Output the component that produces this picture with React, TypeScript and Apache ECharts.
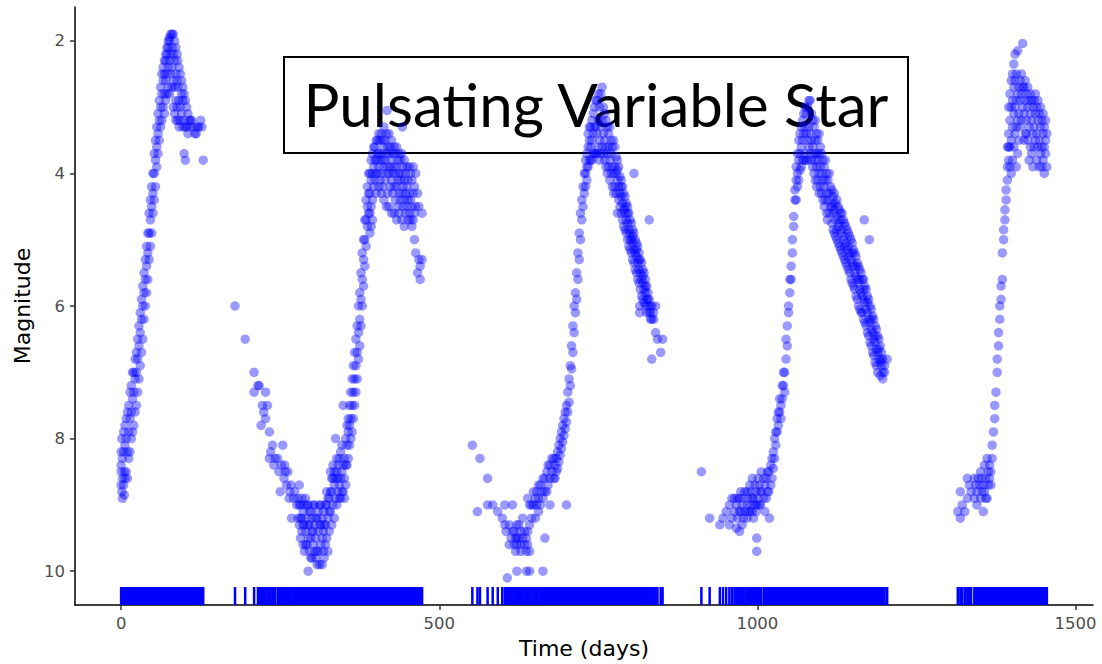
import React, { useEffect, useRef } from "react";
import * as echarts from "echarts";

const cycle1Rows: number[][] = [
  [0, 8.7, 8.5, 8.2, 8.4], [1, 8.8, 8.0], [2, 8.9, 8.6, 8.3], [4, 8.7, 8.2, 7.9], [5, 8.85, 8.5],
  [6, 8.6, 8.1, 7.8], [8, 8.5, 8.0, 7.7], [10, 8.6, 8.2, 7.6], [12, 8.3, 7.9, 7.5],
  [14, 8.2, 7.7, 7.3], [16, 8.0, 7.6, 7.2], [18, 7.9, 7.4, 7.0], [20, 7.8, 7.3, 7.0],
  [22, 7.6, 7.1, 6.8], [24, 7.5, 7.0, 6.7], [26, 7.3, 6.8, 6.5], [28, 7.1, 6.6, 6.3],
  [30, 6.9, 6.4, 6.1], [32, 6.7, 6.2, 5.9], [34, 6.5, 6.0, 5.7], [36, 6.2, 5.8, 5.5],
  [38, 6.0, 5.6, 5.3], [40, 5.8, 5.4, 5.1], [42, 5.6, 5.2, 4.9], [44, 5.3, 4.9, 4.6],
  [46, 5.1, 4.7, 4.4], [48, 4.9, 4.5, 4.2], [50, 4.6, 4.3, 4.0], [52, 4.4, 4.0, 3.7],
  [54, 4.2, 3.8, 3.5], [56, 3.9, 3.6, 3.3], [58, 3.7, 3.4, 3.1], [60, 3.5, 3.2, 2.9],
  [62, 3.3, 3.0, 2.7], [64, 3.2, 2.8, 2.5], [66, 3.0, 2.6, 2.4], [68, 2.8, 2.5, 2.3, 3.1],
  [70, 2.6, 2.3, 2.2, 2.9], [72, 2.5, 2.2, 2.1, 2.8], [74, 2.4, 2.1, 2.0, 2.7],
  [76, 2.3, 2.0, 1.95, 2.8], [78, 2.2, 1.9, 2.5], [80, 1.9, 2.1, 2.4, 2.7],
  [82, 1.9, 2.2, 2.6, 3.0], [84, 2.0, 2.3, 2.7, 3.1], [86, 2.1, 2.5, 2.9, 3.2],
  [88, 2.2, 2.6, 3.0], [89, 2.3, 2.7, 3.2], [91, 2.4, 2.9, 3.3], [93, 2.5, 3.0, 3.2],
  [95, 2.6, 3.1, 2.8], [97, 2.7, 3.3, 2.9], [99, 2.8, 3.7, 3.2], [101, 2.9, 3.8, 3.3],
  [103, 3.0, 3.3], [105, 3.1, 3.4], [107, 3.2], [109, 3.3, 3.2], [111, 3.2], [114, 3.3],
  [116, 3.4], [118, 3.4], [120, 3.3], [122, 3.3], [125, 3.2], [127, 3.3], [129, 3.8],
];

const cycle2Rows: number[][] = [
  [179, 6.0], [195, 6.5], [209, 7.0, 7.3], [215, 7.2], [217, 7.2], [220, 7.8], [222, 7.5],
  [224, 7.6], [227, 7.3, 7.7], [230, 7.5], [233, 7.9, 8.3], [235, 8.2], [238, 8.1],
  [240, 8.4], [242, 8.3], [246, 8.3], [248, 8.5], [250, 8.8], [252, 8.4], [254, 8.1],
  [256, 8.6], [257, 8.4], [258, 8.5], [260, 8.7], [262, 8.5], [264, 8.9], [265, 8.8],
  [267, 8.7], [268, 9.2], [271, 8.9], [273, 8.8], [276, 9.0], [278, 9.2, 8.9],
  [280, 8.7, 9.0, 9.3], [282, 9.0, 9.5, 9.2], [284, 9.2, 9.4, 8.9], [286, 9.1, 9.6, 9.3],
  [288, 9.0, 9.3, 9.7], [290, 8.9, 9.4, 9.6], [292, 9.2, 9.6, 9.0], [294, 9.0, 9.5, 10.0, 9.3],
  [296, 9.3, 9.7, 9.1], [298, 9.1, 9.5, 9.8], [300, 9.2, 9.8, 9.4], [302, 9.4, 9.6, 9.0],
  [304, 9.0, 9.3, 9.7], [306, 9.5, 9.8, 9.2], [308, 9.2, 9.7, 9.9], [310, 9.1, 9.4, 9.7],
  [312, 9.3, 9.9, 9.0], [314, 9.0, 9.6, 9.3], [316, 9.2, 9.5, 9.9], [318, 9.1, 9.4, 9.7],
  [319, 9.3, 9.8], [321, 9.0, 9.6, 9.3], [323, 9.0, 9.5, 8.8], [325, 9.2, 9.7, 8.9],
  [327, 8.9, 9.4, 9.1], [329, 8.5, 9.1, 8.8], [331, 8.8, 9.3, 8.6], [333, 8.6, 9.0, 8.4],
  [335, 8.7, 9.2, 8.5], [337, 8.0, 8.9, 8.6], [339, 8.5, 9.0, 8.3], [341, 8.4, 8.8, 8.6],
  [343, 8.3, 8.7, 8.9], [345, 8.2, 8.6, 8.9], [347, 8.1, 8.5, 8.8], [349, 7.5, 8.4, 8.8],
  [351, 8.3, 8.6, 8.9], [353, 8.0, 8.4, 8.7], [355, 7.8, 8.1, 8.4], [357, 7.7, 7.9, 8.3],
  [359, 7.5, 7.8, 8.1], [361, 7.3, 7.7, 8.0], [363, 7.1, 7.5, 7.9], [365, 6.9, 7.3, 7.7],
  [367, 6.7, 7.1, 7.5], [369, 6.5, 6.9, 7.3], [371, 6.3, 6.7, 7.1], [373, 6.0, 6.4, 6.8],
  [375, 5.8, 6.2, 6.6], [377, 5.5, 5.9, 6.3], [379, 5.2, 5.6, 6.0], [381, 5.0, 5.3, 5.7],
  [383, 4.7, 5.0, 5.4], [385, 4.4, 4.7, 5.1], [387, 4.2, 4.5, 4.8], [389, 4.0, 4.3, 4.6],
  [391, 4.0, 4.3, 4.6, 4.9], [393, 3.8, 4.1, 4.5, 4.8], [395, 3.7, 4.0, 4.4, 4.7],
  [397, 3.6, 3.9, 4.2], [399, 3.6, 3.8, 4.1], [401, 3.5, 3.8, 4.0, 4.3], [403, 3.5, 3.7, 4.0],
  [405, 3.4, 3.7, 3.9, 4.2], [407, 3.5, 3.8, 4.1], [409, 3.4, 3.7, 4.0, 4.3],
  [411, 3.5, 3.8, 4.2], [413, 3.3, 3.6, 3.9, 4.4], [415, 3.5, 3.8, 4.1],
  [417, 3.4, 3.7, 4.0, 4.5], [418, 3.05], [419, 3.6, 3.9, 4.3], [421, 3.4, 3.7, 4.0, 4.5],
  [423, 3.6, 3.9, 4.2], [425, 3.5, 3.8, 4.1, 4.6], [427, 3.7, 4.0, 4.3],
  [429, 3.6, 3.9, 4.2, 4.6], [431, 3.7, 4.0, 4.4], [433, 3.6, 3.9, 4.2, 4.7],
  [435, 3.8, 4.1, 4.5], [437, 3.7, 4.0, 4.3, 4.6], [439, 3.8, 4.1, 4.4],
  [441, 3.7, 4.0, 4.3, 4.7], [442, 3.3], [443, 3.9, 4.2, 4.5], [445, 3.8, 4.1, 4.4, 4.8],
  [447, 4.0, 4.3, 4.6], [449, 3.9, 4.2, 4.5], [451, 4.1, 4.4, 4.7], [453, 3.9, 4.3, 4.6],
  [455, 4.0, 4.4, 4.7], [457, 4.1, 4.5, 4.8], [459, 3.9, 4.3, 4.7], [461, 4.2, 4.6, 5.0],
  [463, 4.0, 4.5, 5.2], [466, 4.3, 5.5], [468, 4.5, 5.3], [470, 5.4, 5.6], [473, 4.6, 5.3],
];

const cycle3Rows: number[][] = [
  [552, 8.1], [560, 9.1], [564, 8.3], [576, 8.6, 9.0], [584, 9.0], [592, 9.1], [599, 9.2],
  [603, 9.0, 9.3], [605, 9.4], [607, 10.1], [610, 9.6, 9.3], [613, 9.5], [615, 9.0, 9.4],
  [618, 9.4, 9.6], [620, 9.5, 9.7], [622, 9.3, 9.6, 10.0, 9.5], [625, 9.5, 9.3],
  [628, 9.4, 9.7, 9.6], [631, 9.2, 9.5], [634, 9.6, 9.4], [637, 9.7, 10.0, 9.5],
  [639, 8.9, 9.4, 9.6], [642, 9.0, 10.0, 9.7, 9.3], [645, 9.2, 9.0], [648, 9.0, 8.8],
  [651, 8.9, 9.2], [653, 9.0, 8.8], [656, 8.9, 9.1, 8.7], [659, 8.7, 9.0], [661, 8.8],
  [663, 8.6, 10.0, 8.9], [666, 8.8, 9.5, 8.6], [669, 8.5, 8.8], [671, 8.7, 8.4],
  [674, 8.4, 9.0, 8.6], [677, 8.5, 8.3], [680, 8.3, 8.6], [682, 8.6, 8.4], [684, 8.3, 8.5],
  [686, 8.2, 8.45], [688, 8.1, 8.35], [690, 8.0, 8.25], [692, 7.9, 8.15], [694, 7.8, 8.05],
  [696, 7.7, 7.95], [698, 7.6, 7.85], [700, 7.5, 7.75, 9.0], [702, 7.3, 7.6], [704, 7.1, 7.45],
  [706, 6.9, 7.2], [708, 6.6, 6.95], [710, 6.3, 6.7], [712, 6.0, 6.4], [714, 5.8, 6.1],
  [716, 5.5, 5.9], [718, 5.2, 5.6], [720, 4.9, 5.3], [722, 4.6, 5.0], [724, 4.4, 4.7],
  [726, 4.2, 4.5], [728, 4.0, 4.3], [730, 4.2, 4.0, 3.8], [732, 3.9, 3.7, 4.1],
  [734, 3.6, 3.9, 3.4], [736, 3.5, 3.8, 3.3], [738, 3.3, 3.6, 3.8], [740, 3.2, 3.5, 3.8],
  [742, 3.1, 3.4, 3.7], [744, 3.0, 3.3, 3.7], [746, 2.9, 3.3, 3.7], [748, 2.9, 3.4, 3.7],
  [750, 2.8, 3.2, 3.6], [752, 3.0, 3.5, 3.8], [754, 2.8, 3.3, 3.7], [756, 2.7, 3.2, 3.6],
  [758, 3.0, 3.4, 3.7], [760, 3.1, 3.5, 3.8], [762, 3.2, 3.6, 3.9], [764, 3.3, 3.7, 4.0],
  [766, 3.4, 3.6, 3.9], [768, 3.3, 3.8, 4.1], [770, 3.5, 3.7, 4.0], [772, 3.6, 3.9, 4.2],
  [774, 3.5, 4.0, 4.3], [776, 3.6, 3.9, 4.2], [778, 3.75, 4.0, 4.3], [780, 3.8, 4.1, 4.6, 3.95],
  [782, 3.9, 4.2, 4.4], [784, 4.05, 4.3, 4.5], [786, 4.1, 4.35, 4.6, 4.2], [788, 4.2, 4.45, 4.7],
  [790, 4.3, 4.55, 4.8], [792, 4.35, 4.6, 4.85, 4.5], [794, 4.45, 4.7, 4.9],
  [796, 4.5, 4.75, 5.0, 4.6], [798, 4.6, 4.85, 5.1], [800, 4.7, 4.9, 5.15, 5.0],
  [802, 4.75, 5.0, 5.2], [804, 4.85, 5.05, 5.3, 4.95], [806, 4.0, 4.9, 5.15, 5.35],
  [808, 5.0, 5.2, 5.45], [810, 5.05, 5.25, 5.5, 5.15], [812, 5.1, 5.35, 5.6],
  [814, 5.2, 5.45, 5.65, 5.3], [815, 6.0, 6.1], [816, 5.3, 5.5, 5.75], [818, 5.35, 5.6, 5.85],
  [820, 5.45, 5.65, 5.9, 5.55], [822, 5.5, 5.75, 5.95], [824, 5.6, 5.8, 6.0, 5.7],
  [826, 5.7, 5.9, 6.1], [828, 5.8, 6.0, 5.9], [830, 4.7, 5.9, 6.1], [832, 6.0, 6.2, 6.1],
  [834, 6.0, 6.8, 6.2], [837, 6.2, 6.1], [840, 6.4, 6.0], [843, 6.5], [848, 6.7], [851, 6.5],
];

const cycle4Rows: number[][] = [
  [912, 8.5], [925, 9.2], [941, 9.3], [946, 9.2], [951, 9.1], [956, 9.0, 9.3], [960, 9.2, 8.9],
  [964, 9.1, 8.9], [967, 9.35, 9.0], [969, 9.2, 8.9], [972, 9.4, 8.9, 9.1], [974, 9.1, 8.8],
  [976, 9.3, 9.0], [978, 9.2, 8.9], [980, 8.8, 9.1], [984, 9.0, 9.2, 8.8], [986, 8.9, 9.1],
  [988, 9.1, 8.7], [990, 9.0, 8.8], [992, 8.6, 8.9, 9.1], [994, 9.2, 8.9], [996, 9.0, 8.7],
  [998, 8.8, 9.1], [999, 9.5, 9.7, 9.0], [1001, 8.9, 8.6], [1003, 8.7, 9.0], [1005, 9.0, 8.8],
  [1006, 8.8, 8.5], [1010, 8.9, 8.6], [1012, 8.7, 9.1], [1014, 8.6, 8.9], [1016, 8.8, 8.5],
  [1018, 8.5, 8.8], [1019, 9.2], [1021, 8.7, 8.4], [1023, 8.3, 8.6], [1025, 8.2, 8.45],
  [1027, 8.0, 8.3], [1029, 8.1, 7.9], [1031, 7.9, 7.7], [1033, 7.8, 7.6], [1035, 7.6, 7.4],
  [1037, 7.5, 7.7], [1039, 7.4, 7.2], [1041, 7.2, 7.0], [1043, 7.0, 7.3], [1045, 6.8, 6.5],
  [1047, 6.3, 6.6], [1049, 6.1, 6.0], [1051, 5.8, 5.6], [1053, 5.6, 5.4], [1055, 5.2, 5.0],
  [1057, 4.8, 4.65], [1059, 4.4, 4.25], [1061, 4.1, 3.9, 4.4], [1063, 3.7, 4.0, 4.2],
  [1065, 3.5, 3.8, 4.1], [1067, 3.4, 3.7, 3.95], [1069, 3.3, 3.6, 3.9], [1071, 3.2, 3.5, 3.8],
  [1073, 3.1, 3.4, 3.8], [1075, 3.0, 3.3, 3.7], [1077, 3.1, 3.4, 3.8], [1079, 3.0, 3.5, 3.8],
  [1081, 2.9, 3.3, 3.6], [1083, 2.9, 3.4, 3.7], [1085, 3.1, 3.5, 3.8], [1087, 3.2, 3.6, 3.9],
  [1089, 3.3, 3.7, 4.0], [1091, 3.2, 3.5, 3.8, 4.1], [1093, 3.4, 3.7, 3.9, 4.2],
  [1095, 3.5, 3.8, 4.1], [1097, 3.4, 3.7, 4.0, 4.3], [1099, 3.6, 3.9, 4.2], [1101, 3.7, 4.0, 4.3],
  [1103, 3.8, 4.1, 4.4], [1105, 3.9, 4.2, 4.5], [1107, 3.8, 4.1, 4.4], [1109, 4.0, 4.3, 4.6],
  [1110, 4.7], [1111, 4.1, 4.4], [1113, 4.0, 4.3, 4.6], [1115, 4.2, 4.5],
  [1117, 4.25, 4.5, 4.75], [1119, 4.35, 4.6, 4.85, 4.45], [1121, 4.3, 4.55, 4.9],
  [1123, 4.45, 4.7, 4.95], [1125, 4.4, 4.65, 5.0, 4.85], [1127, 4.5, 4.8, 5.05],
  [1129, 4.55, 4.75, 5.1], [1131, 4.6, 4.9, 5.15, 4.7], [1133, 4.6, 4.85, 5.2],
  [1135, 4.7, 5.0, 5.25], [1137, 4.75, 4.95, 5.3, 5.1], [1139, 4.8, 5.05, 5.35],
  [1141, 4.85, 5.15, 5.4], [1143, 4.9, 5.1, 5.45, 5.25], [1145, 4.95, 5.2, 5.5],
  [1147, 5.0, 5.3, 5.6], [1149, 5.05, 5.35, 5.65, 5.2], [1151, 5.15, 5.4, 5.7],
  [1153, 5.2, 5.5, 5.75], [1155, 5.25, 5.55, 5.85, 5.4], [1157, 5.35, 5.6, 5.9],
  [1159, 5.4, 5.65, 6.0], [1161, 5.45, 5.75, 6.05, 5.6], [1163, 5.5, 5.8, 6.1],
  [1165, 5.6, 5.85, 6.1], [1167, 5.6, 5.9, 6.2, 5.75], [1168, 4.7], [1169, 5.7, 5.95, 6.25],
  [1171, 5.75, 6.05, 6.3], [1173, 5.85, 6.1, 6.4, 5.95], [1175, 5.9, 6.2, 6.45], [1176, 5.0],
  [1177, 6.0, 6.25, 6.55], [1179, 6.05, 6.35, 6.6, 6.2], [1181, 6.15, 6.4, 6.7],
  [1183, 6.2, 6.5, 6.75], [1185, 6.3, 6.55, 6.85, 6.45], [1187, 6.35, 6.65, 6.9],
  [1189, 6.45, 6.7, 7.0], [1191, 6.5, 6.8, 6.65], [1193, 6.6, 6.85, 7.05], [1195, 6.7, 6.9, 6.8],
  [1197, 6.8, 7.0, 7.1], [1200, 7.0, 6.9], [1204, 6.8],
];

const cycle5Rows: number[][] = [
  [1315, 9.1], [1319, 8.8, 9.2], [1322, 9.0], [1326, 9.1], [1330, 8.9, 8.6], [1333, 8.7],
  [1336, 8.8], [1341, 8.6, 8.9], [1343, 8.7], [1345, 8.8, 9.0], [1347, 8.6], [1349, 8.7],
  [1351, 8.9, 8.5], [1353, 8.6, 8.8], [1355, 9.1, 8.7], [1357, 8.4, 8.8], [1359, 8.6, 8.9],
  [1361, 8.3, 8.9], [1363, 8.5, 8.7], [1365, 8.6, 8.4], [1367, 8.7, 8.5], [1369, 8.3, 8.1],
  [1371, 7.9], [1373, 7.7, 7.5], [1375, 7.3], [1377, 7.0, 6.8], [1379, 6.6, 6.4],
  [1381, 6.2, 6.0], [1383, 5.9, 5.7], [1385, 5.6, 5.2], [1387, 5.0, 4.85], [1389, 4.7, 4.55],
  [1391, 4.4, 4.25], [1393, 4.1, 3.9, 3.6], [1395, 3.8, 3.4, 3.0, 3.6], [1397, 3.6, 3.2, 2.8, 3.9],
  [1399, 3.5, 3.0, 2.6, 4.0], [1401, 3.3, 2.9, 2.5, 3.8], [1403, 3.1, 2.7, 2.35, 3.6],
  [1405, 3.0, 2.6, 2.2, 3.4], [1407, 2.9, 2.5, 3.3, 3.9], [1409, 2.8, 3.2, 3.7, 2.15],
  [1411, 2.7, 3.1, 3.5], [1413, 2.9, 3.3, 2.6], [1415, 2.8, 3.2, 2.5], [1417, 2.04, 3.0, 2.7],
  [1419, 2.7, 3.1, 3.5], [1421, 2.6, 2.9, 3.4], [1423, 2.8, 3.2, 3.4], [1425, 2.7, 3.0, 3.5],
  [1427, 2.9, 3.3, 3.8], [1429, 2.8, 3.1, 3.6], [1431, 2.9, 3.2, 3.7], [1433, 3.0, 3.4, 3.9],
  [1435, 2.9, 3.3, 3.6], [1437, 3.1, 3.5, 2.8], [1439, 3.0, 3.4, 3.8], [1441, 3.2, 3.6, 2.9],
  [1443, 3.1, 3.5, 3.9], [1445, 3.3, 3.7, 3.0], [1447, 3.2, 3.6, 3.9], [1449, 3.4, 3.8, 3.1],
  [1451, 3.3, 4.0, 3.6], [1453, 3.5, 3.7, 3.2], [1455, 3.4, 3.9],
];

const xTicks = [0, 500, 1000, 1500];
const yTicks = [2, 4, 6, 8, 10];
const xRange = [-72.5, 1527.5];
const yRange = [1.49, 10.51];
const titleText = "Pulsating Variable Star";
const xName = "Time (days)";
const yName = "Magnitude";

const allRows = [...cycle1Rows, ...cycle2Rows, ...cycle3Rows, ...cycle4Rows, ...cycle5Rows];
const points = allRows.flatMap(([t, ...ms]) => ms.map((m) => [t, m]));
const rugTimes = Array.from(new Set(allRows.map((r) => r[0])));

export default function App() {
  const ref = useRef<HTMLDivElement>(null);
  useEffect(() => {
    if (!ref.current) return;
    const chart = echarts.init(ref.current, null, { renderer: "svg" });
    const axisFont = "'DejaVu Sans', sans-serif";
    chart.setOption({
      animation: false,
      backgroundColor: "#ffffff",
      grid: { left: 75, right: 9, top: 7, bottom: 54.5, containLabel: false },
      xAxis: {
        type: "value",
        min: xRange[0],
        max: xRange[1],
        splitLine: { show: false },
        axisLine: { onZero: false, lineStyle: { color: "#000", width: 1.5 } },
        axisTick: { show: true, length: 5, customValues: xTicks, lineStyle: { color: "#333", width: 1.5 } },
        axisLabel: {
          customValues: xTicks,
          formatter: (v: number) => String(v),
          color: "#4d4d4d",
          fontSize: 16.5,
          fontFamily: axisFont,
          margin: 10,
        },
        name: xName,
        nameLocation: "middle",
        nameGap: 32,
        nameTextStyle: { color: "#000", fontSize: 22, fontFamily: axisFont },
      },
      yAxis: {
        type: "value",
        inverse: true,
        min: yRange[0],
        max: yRange[1],
        splitLine: { show: false },
        axisLine: { onZero: false, lineStyle: { color: "#000", width: 1.5 } },
        axisTick: { show: true, length: 5, customValues: yTicks, lineStyle: { color: "#333", width: 1.5 } },
        axisLabel: {
          customValues: yTicks,
          formatter: (v: number) => String(v),
          color: "#4d4d4d",
          fontSize: 16.5,
          fontFamily: axisFont,
          margin: 10,
        },
        name: yName,
        nameLocation: "middle",
        nameGap: 40,
        nameTextStyle: { color: "#000", fontSize: 22, fontFamily: axisFont },
      },
      series: [
        {
          type: "scatter",
          data: points,
          symbol: "circle",
          symbolSize: 9.5,
          itemStyle: { color: "rgba(0,0,255,0.5)" },
          silent: true,
          z: 2,
        },
        {
          type: "custom",
          coordinateSystem: "cartesian2d",
          data: rugTimes.map((t) => [t]),
          encode: { x: 0 },
          silent: true,
          z: 3,
          renderItem: (params: any, api: any) => {
            const x = api.coord([api.value(0), yRange[1]])[0];
            const cs = params.coordSys;
            const yb = cs.y + cs.height;
            return {
              type: "line",
              shape: { x1: x, y1: yb, x2: x, y2: yb - 18 },
              style: { stroke: "#0000ff", lineWidth: 2.5 },
            };
          },
        },
      ],
      graphic: [
        {
          type: "group",
          z: 100,
          children: [
            {
              type: "rect",
              shape: { x: 284, y: 57, width: 624, height: 96 },
              style: { fill: "rgba(255,255,255,0.8)", stroke: "#000", lineWidth: 2 },
            },
            {
              type: "text",
              x: 596,
              y: 104,
              style: {
                text: titleText,
                fill: "#000",
                font: "60px Lato",
                textAlign: "center",
                textVerticalAlign: "middle",
              },
            },
          ],
        },
      ],
    });
    return () => chart.dispose();
  }, []);
  return (
    <div
      ref={ref}
      style={{ position: "fixed", left: 0, top: 0, width: 1102, height: 664 }}
    />
  );
}
